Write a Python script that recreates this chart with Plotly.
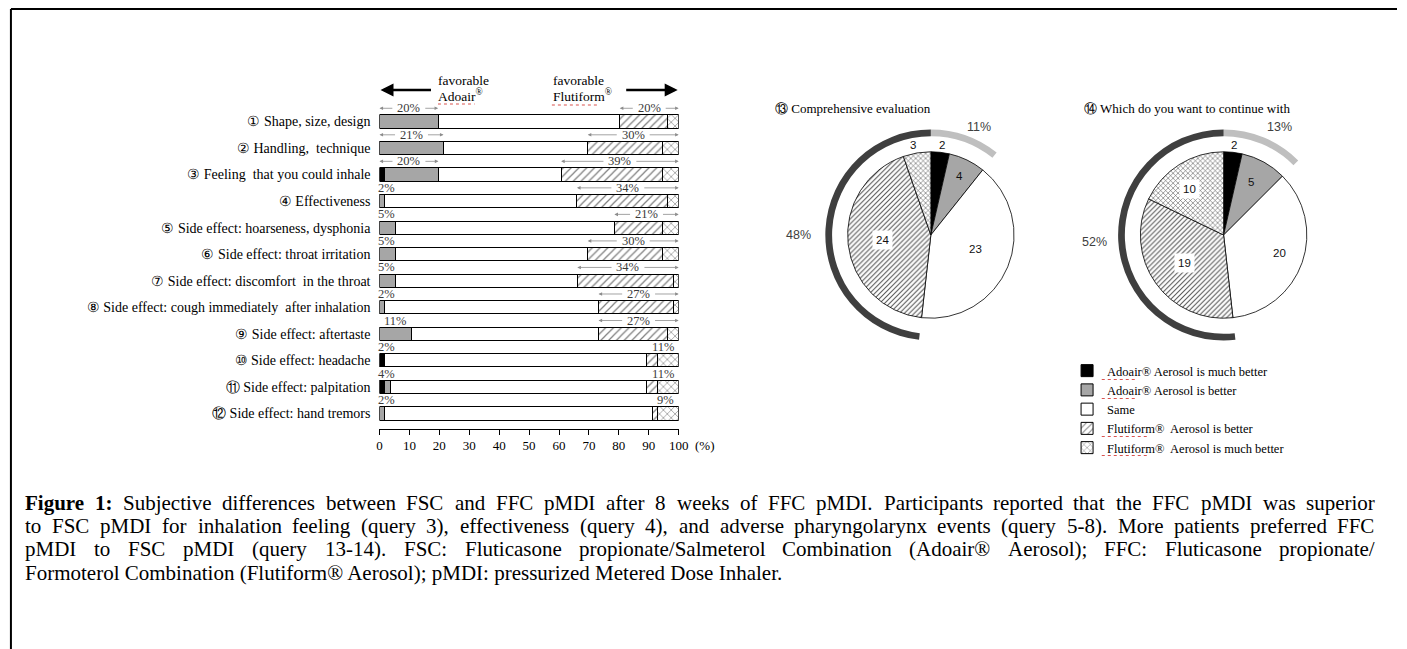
import plotly.graph_objects as go

W, H = 1407, 649

# ---------------- data ----------------
questions = [
    "① Shape, size, design",
    "② Handling,  technique",
    "③ Feeling  that you could inhale",
    "④ Effectiveness",
    "⑤ Side effect: hoarseness, dysphonia",
    "⑥ Side effect: throat irritation",
    "⑦ Side effect: discomfort  in the throat",
    "⑧ Side effect: cough immediately  after inhalation",
    "⑨ Side effect: aftertaste",
    "⑩ Side effect: headache",
    "⑪ Side effect: palpitation",
    "⑫ Side effect: hand tremors",
]
adoair_much   = [0.0, 0.0, 1.8, 0.0, 0.0, 0.0, 0.0, 0.0, 0.0, 1.8, 1.8, 0.0]
adoair_better = [19.6, 21.4, 17.9, 1.8, 5.4, 5.4, 5.4, 1.8, 10.7, 0.0, 1.8, 1.8]
same          = [60.7, 48.2, 41.0, 64.2, 73.1, 64.2, 60.7, 71.4, 62.5, 87.5, 85.7, 89.3]
flut_better   = [16.1, 25.0, 33.9, 30.4, 16.1, 25.0, 32.1, 25.0, 23.2, 3.6, 3.6, 1.8]
flut_much     = [3.6, 5.4, 5.4, 3.6, 5.4, 5.4, 1.8, 1.8, 3.6, 7.1, 7.1, 7.1]

left_labels  = ["20%", "21%", "20%", "2%", "5%", "5%", "5%", "2%", "11%", "2%", "4%", "2%"]
right_labels = ["20%", "30%", "39%", "34%", "21%", "30%", "34%", "27%", "27%", "11%", "11%", "9%"]
left_arrows  = [True, True, True] + [False] * 9
right_arrows = [True] * 9 + [False] * 3

x_ticks = [0, 10, 20, 30, 40, 50, 60, 70, 80, 90, 100]

answer_names = [
    "Adoair® Aerosol is much better",
    "Adoair® Aerosol is better",
    "Same",
    "Flutiform®  Aerosol is better",
    "Flutiform®  Aerosol is much better",
]
q13_title = "⑬ Comprehensive evaluation"
q14_title = "⑭ Which do you want to continue with"
q13_counts = [2, 4, 23, 24, 3]
q14_counts = [2, 5, 20, 19, 10]
q13_groups = [6, 23, 27]      # favour Adoair / same / favour Flutiform
q14_groups = [7, 20, 29]
q13_group_pct = ["11%", "48%"]
q14_group_pct = ["13%", "52%"]

caption_lines = [
    "Figure 1: Subjective differences between FSC and FFC pMDI after 8 weeks of FFC pMDI. Participants reported that the FFC pMDI was superior",
    "to FSC pMDI for inhalation feeling (query 3), effectiveness (query 4), and adverse pharyngolarynx events (query 5-8). More patients preferred FFC",
    "pMDI to FSC pMDI (query 13-14). FSC: Fluticasone propionate/Salmeterol Combination (Adoair® Aerosol); FFC: Fluticasone propionate/",
    "Formoterol Combination (Flutiform® Aerosol); pMDI: pressurized Metered Dose Inhaler.",
]

# ---------------- helpers ----------------
SERIF = "Liberation Serif, Times New Roman, serif"
SANS = "Liberation Sans, Arial, sans-serif"


def px(x):
    return x / W


def py(y):
    return 1 - y / H


def dom(cx, cy, r):
    return dict(x=[(cx - r) / W, (cx + r) / W], y=[1 - (cy + r) / H, 1 - (cy - r) / H])


def ptext(x, y, text, font, xanchor="center", **kw):
    d = dict(x=px(x), y=py(y), xref="paper", yref="paper", text=text, showarrow=False,
             xanchor=xanchor, yanchor="middle", font=font)
    d.update(kw)
    return d


fig = go.Figure()

# ---------------- stacked bars ----------------
rows = list(range(len(questions)))
styles = [
    dict(color="black", pattern=dict(shape="")),
    dict(color="#a6a6a6", pattern=dict(shape="")),
    dict(color="white", pattern=dict(shape="")),
    dict(color="white", pattern=dict(shape="/", fgcolor="black", bgcolor="white", size=5.5, solidity=0.22)),
    dict(color="white", pattern=dict(shape="x", fgcolor="black", bgcolor="white", size=5.5, solidity=0.22)),
]
series = [adoair_much, adoair_better, same, flut_better, flut_much]
for name, vals, st in zip(answer_names, series, styles):
    fig.add_trace(go.Bar(
        x=vals, y=rows, orientation="h", name=name,
        marker=dict(color=st["color"], line=dict(color="black", width=1), pattern=st["pattern"]),
        hoverinfo="skip", xaxis="x", yaxis="y",
    ))

# ---------------- pies ----------------
slice_colors = ["black", "#a6a6a6", "white", "white", "white"]
pie_pattern = dict(shape=["", "", "", "/", "x"], fgcolor="#555", bgcolor="white", size=3.5, solidity=0.3)
pies = [
    (936.5, 235, q13_counts, q13_groups),
    (1232, 235, q14_counts, q14_groups),
]
for cx, cy, counts, groups in pies:
    fig.add_trace(go.Pie(
        values=groups, sort=False, direction="clockwise", rotation=0,
        hole=0.936, textinfo="none", hoverinfo="skip", showlegend=False,
        marker=dict(colors=["#bfbfbf", "rgba(0,0,0,0)", "#3f3f3f"], line=dict(width=0)),
        domain=dom(cx, cy, 106.5),
    ))
    fig.add_trace(go.Pie(
        values=counts, sort=False, direction="clockwise", rotation=0,
        textinfo="none", hoverinfo="skip", showlegend=False,
        marker=dict(colors=slice_colors, line=dict(color="black", width=0.8), pattern=pie_pattern),
        domain=dom(cx, cy, 84),
    ))

ann = []

# percentage labels over bars
lab_font = dict(family=SERIF, size=12.5, color="#3a3a3a")
arrow_col = "#8c8c8c"


def dtext(x, y, text, xanchor="center", **kw):
    d = dict(x=x, y=y, xref="x", yref="y", text=text, showarrow=False, xanchor=xanchor,
             yanchor="middle", font=lab_font)
    d.update(kw)
    return d


def darrow(head, tail, y):
    return dict(x=head, y=y, ax=tail, ay=y, xref="x", yref="y", axref="x", ayref="y",
                text="", showarrow=True, arrowhead=2, arrowsize=0.9, arrowwidth=0.8,
                arrowcolor=arrow_col, standoff=0, startstandoff=0)


for i in rows:
    ltot = adoair_much[i] + adoair_better[i]
    rstart = 100 - (flut_better[i] + flut_much[i])
    yl = i - 0.5
    # left
    if left_arrows[i]:
        c = ltot / 2
        ann.append(dtext(c, yl, left_labels[i]))
        ann.append(darrow(0, c - 5, yl))
        ann.append(darrow(ltot, c + 5, yl))
    elif ltot >= 8:
        ann.append(dtext(ltot / 2, yl, left_labels[i]))
    else:
        ann.append(dtext(0, yl, left_labels[i], xanchor="left", xshift=-3))
    # right
    c = (rstart + 100) / 2
    ann.append(dtext(c, yl, right_labels[i]))
    if right_arrows[i]:
        ann.append(darrow(rstart, c - 5, yl))
        ann.append(darrow(100, c + 5, yl))

# "(%)"
ann.append(ptext(696, 445, "(%)", dict(family=SERIF, size=13, color="black"), xanchor="left"))

# header
hfont = dict(family=SERIF, size=13.5, color="black")
for xx, t1, t2 in ((437, "favorable", "Adoair<sup>®</sup>"), (553, "favorable", "Flutiform<sup>®</sup>")):
    ann.append(ptext(xx, 80, t1, hfont, xanchor="left"))
    ann.append(ptext(xx, 95, t2, hfont, xanchor="left"))
ann.append(dict(x=px(381), y=py(90), xref="paper", yref="paper", ax=52, ay=0, text="", showarrow=True,
                arrowhead=2, arrowsize=1, arrowwidth=2.6, arrowcolor="black", standoff=0))
ann.append(dict(x=px(681), y=py(90), xref="paper", yref="paper", ax=-53, ay=0, text="", showarrow=True,
                arrowhead=2, arrowsize=1, arrowwidth=2.6, arrowcolor="black", standoff=0))

# pie titles
tfont = dict(family=SERIF, size=13, color="black")
ann.append(ptext(777, 108, q13_title, tfont, xanchor="left"))
ann.append(ptext(1089, 108, q14_title, tfont, xanchor="left"))

# pie slice numbers
nfont = dict(family=SANS, size=11.5, color="#111")
pie_nums = [
    (948, 145, q13_counts[0], False), (965, 176, q13_counts[1], False), (982, 249, q13_counts[2], False),
    (888, 240, q13_counts[3], True), (918, 145, q13_counts[4], False),
    (1242, 145, q14_counts[0], False), (1260, 182, q14_counts[1], False), (1288, 253, q14_counts[2], False),
    (1193, 263, q14_counts[3], True), (1198, 189, q14_counts[4], True),
]
for xx, yy, v, box in pie_nums:
    if box:
        ann.append(ptext(xx, yy, str(v), nfont, bgcolor="white", borderpad=3))
    else:
        ann.append(ptext(xx, yy, str(v), nfont))

pfont = dict(family=SANS, size=12.5, color="#404040")
for xx, yy, t in ((985, 127, q13_group_pct[0]), (803, 235, q13_group_pct[1]),
                  (1288, 127, q14_group_pct[0]), (1102, 242, q14_group_pct[1])):
    ann.append(ptext(xx, yy, t, pfont))

# ---------------- caption (justified) ----------------
TW = dict(zip("ABCDEFGHIJKLMNOPQRSTUVWXYZ",
              [722, 667, 667, 722, 611, 556, 722, 722, 333, 389, 722, 611, 889, 722, 722, 556, 722, 667, 556,
               611, 722, 722, 944, 722, 722, 611]))
TW.update(zip("abcdefghijklmnopqrstuvwxyz",
              [444, 500, 444, 500, 444, 333, 500, 500, 278, 278, 500, 278, 778, 500, 500, 500, 500, 333, 389,
               278, 500, 500, 722, 500, 500, 444]))
TW.update({c: 500 for c in "0123456789"})
TW.update({" ": 250, ".": 250, ",": 250, ":": 278, ";": 278, "(": 333, ")": 333, "-": 333, "/": 278,
           "®": 760, "%": 833})
BW = dict(TW)
BW.update({"F": 611, "u": 556, "r": 444, ":": 333})

CAP = 21
cap_left, cap_right = 22, 1384
cap_ys = [503, 526, 549, 573]


def wlen(word, bold):
    tab = BW if bold else TW
    return sum(tab.get(ch, 500) for ch in word) * CAP / 1000.0


cfont = dict(family=SERIF, size=CAP, color="black")
for li, (line, yy) in enumerate(zip(caption_lines, cap_ys)):
    words = line.split(" ")
    bold = [li == 0 and k < 2 for k in range(len(words))]
    if li < 3:
        widths = [wlen(w, b) for w, b in zip(words, bold)]
        gap = (cap_right - cap_left - sum(widths)) / (len(words) - 1)
        xx = cap_left
        for w, b, wd in zip(words, bold, widths):
            ann.append(ptext(xx, yy, f"<b>{w}</b>" if b else w, cfont, xanchor="left",
                             borderpad=0, borderwidth=0))
            xx += wd + gap
    else:
        ann.append(ptext(cap_left, yy, line, cfont, xanchor="left", borderpad=0, borderwidth=0))

# frame + spell-check style underlines
red = dict(color="#d9534f", width=1.2, dash="dot")
shapes = [
    dict(type="line", xref="paper", yref="paper", x0=px(8), x1=1.0, y0=py(9), y1=py(9),
         line=dict(color="black", width=2)),
    dict(type="line", xref="paper", yref="paper", x0=px(8), x1=px(8), y0=py(9), y1=0.0,
         line=dict(color="black", width=2)),
]
for x0, x1, yy in ((439, 476, 104), (554, 601, 105),
                   (1109, 1143, 379.5), (1109, 1143, 398.5), (1109, 1156, 436.5), (1109, 1156, 455.5)):
    shapes.append(dict(type="line", xref="paper", yref="paper", x0=px(x0), x1=px(x1), y0=py(yy), y1=py(yy),
                       line=red))

fig.update_layout(
    width=W, height=H, autosize=False,
    margin=dict(l=0, r=0, t=0, b=0),
    paper_bgcolor="white", plot_bgcolor="white",
    barmode="stack", bargap=0.5,
    hovermode=False,
    xaxis=dict(domain=[px(380), px(682)], range=[0, 100], tickvals=x_ticks, ticks="outside", ticklen=5,
               tickcolor="black", showline=True, linecolor="black", linewidth=1, showgrid=False,
               zeroline=False, tickfont=dict(family=SERIF, size=13, color="black"), anchor="y"),
    yaxis=dict(domain=[py(428.5), py(95)], range=[11.57, -1.0], tickvals=rows, ticktext=questions,
               showgrid=False, zeroline=False, showline=False, ticks="", ticklabelstandoff=8,
               tickfont=dict(family=SERIF, size=14, color="black"), anchor="x"),
    legend=dict(x=px(1074), y=py(356), xanchor="left", yanchor="top", traceorder="normal",
                font=dict(family=SERIF, size=12.5, color="black"), bgcolor="rgba(0,0,0,0)",
                tracegroupgap=0),
    annotations=ann,
    shapes=shapes,
)

fig.write_html(
    "out.html",
    config={"displayModeBar": False},
    post_script="document.body.style.margin='0px';document.body.style.overflow='hidden';",
)
